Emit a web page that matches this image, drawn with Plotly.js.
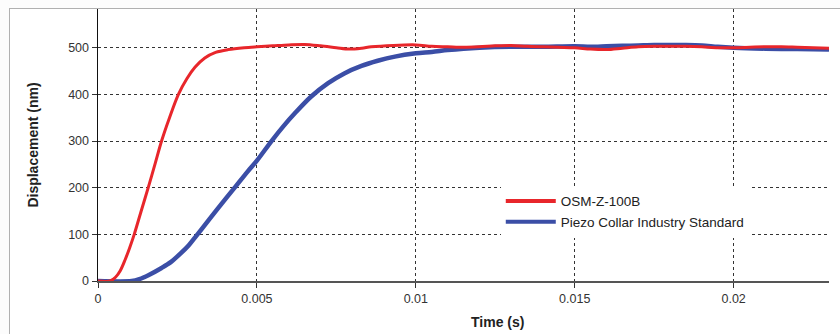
<!DOCTYPE html>
<html>
<head>
<meta charset="utf-8">
<script src="https://cdn.plot.ly/plotly-3.0.1.min.js"></script>
<style>
html,body{margin:0;padding:0;background:#fcfcfc;width:840px;height:334px;overflow:hidden;}
#frame{position:absolute;left:9px;top:8px;width:840px;height:340px;border:1px solid #b0b0b0;background:#ffffff;}
#chart{position:absolute;left:0;top:0;width:840px;height:334px;}
</style>
</head>
<body>
<div id="frame"></div>
<div id="chart"></div>
<script>
// Time in seconds
const redT = [0,0.00038,0.00055,0.0007,0.00085,0.0010,0.00114,0.00135,0.00158,0.0018,0.0020,0.00225,0.00253,0.0028,0.00305,0.00336,0.0037,0.0041,0.0046,0.0050,0.0055,0.0060,0.0065,0.0070,0.0075,0.0079,0.0083,0.0086,0.0093,0.0100,0.0105,0.0110,0.0115,0.0120,0.0125,0.0130,0.0135,0.0140,0.0145,0.0150,0.0155,0.0160,0.0165,0.0170,0.0175,0.0180,0.0185,0.0190,0.0195,0.0200,0.0205,0.0210,0.0215,0.0220,0.0225,0.0230];
const redY = [0,0,8,22,45,72,100,148,200,252,300,350,400,434,458,478,490,496,500,502,504,506,507,504,500,497,499,502,505,506,503,502,501,502,504,505,503,502,501,500,497,496,499,502,503,503,503,502,500,500,501,502,502,501,500,499];
const blueT = [0,0.00106,0.0013,0.0016,0.0020,0.0023,0.0026,0.00285,0.00305,0.0035,0.0040,0.0043,0.0047,0.0050,0.00546,0.00585,0.0062,0.0067,0.00724,0.00775,0.00829,0.0088,0.00934,0.0100,0.0105,0.0110,0.0115,0.0120,0.0130,0.0140,0.0150,0.0155,0.0160,0.0165,0.0170,0.0175,0.0180,0.0185,0.0190,0.0195,0.0200,0.0210,0.0220,0.0230];
const blueY = [0,0,4,13,28,41,59,76,93,132,175,200,234,258,300,333,360,395,424,445,461,472,481,488,491,495,498,500,502,502,503,502,503,504,505,506,506,506,505,502,500,498,497,496];
const seriesNames = ["OSM-Z-100B","Piezo Collar Industry Standard"];
const xTickVals = [0,0.005,0.01,0.015,0.02];
const xTickText = ["0","0.005","0.01","0.015","0.02"];
const yTickVals = [0,100,200,300,400,500];

const traces = [
  {x: blueT, y: blueY, name: seriesNames[1], mode:'lines', line:{color:'#3b4ea6', width:4.5, shape:'spline', smoothing:0.9}, showlegend:false},
  {x: redT, y: redY, name: seriesNames[0], mode:'lines', line:{color:'#e8262b', width:3, shape:'spline', smoothing:0.9}, showlegend:false},
  {x: [null], y: [null], name: seriesNames[0], mode:'lines', line:{color:'#e8262b', width:4}},
  {x: [null], y: [null], name: seriesNames[1], mode:'lines', line:{color:'#3b4ea6', width:4}}
];

const layout = {
  width: 840, height: 334,
  margin: {l:98, r:11, t:9, b:53},
  paper_bgcolor: 'rgba(0,0,0,0)',
  plot_bgcolor: '#ffffff',
  font: {family:'"Liberation Sans", Arial, sans-serif', size:12.5, color:'#333'},
  xaxis: {
    range:[0,0.023], tickvals:xTickVals, ticktext:xTickText,
    showgrid:true, gridcolor:'#333', griddash:'dot', gridwidth:1,
    zeroline:false, showline:true, linecolor:'#555', linewidth:1.5,
    ticks:'outside', ticklen:5, tickcolor:'#333'
  },
  yaxis: {
    range:[0,583], tickvals:yTickVals,
    showgrid:true, gridcolor:'#333', griddash:'dot', gridwidth:1,
    zeroline:false, showline:true, linecolor:'#111', linewidth:1.5,
    ticks:'outside', ticklen:5, tickcolor:'#333',
    title:{text:'Displacement (nm)', font:{size:14, color:'#222', weight:'bold'}, standoff:26}
  },
  annotations: [
    {text:'Time (s)', xref:'paper', yref:'paper', x:0.547, y:-0.152, xanchor:'center', yanchor:'middle',
     showarrow:false, font:{size:14, color:'#222', weight:'bold'}}
  ],
  legend: {x:0.551, y:0.35, xanchor:'left', yanchor:'top', bgcolor:'#ffffff', borderwidth:0,
    font:{size:13.5, color:'#222'}, itemwidth:50, tracegroupgap:0},
  showlegend: true
};

Plotly.newPlot('chart', traces, layout, {displayModeBar:false, staticPlot:true});
</script>
</body>
</html>
